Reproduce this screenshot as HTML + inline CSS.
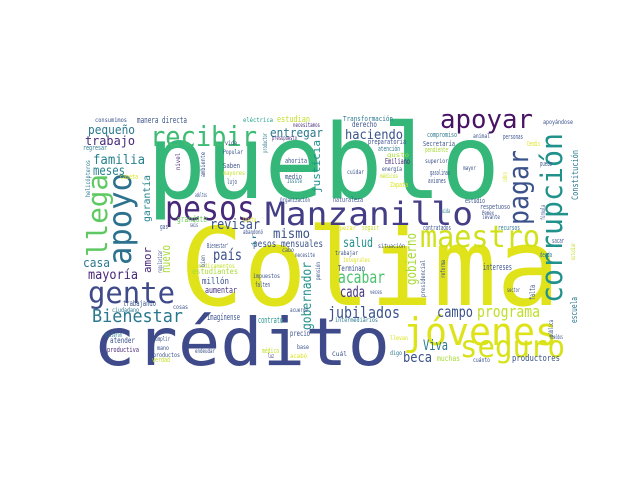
<!DOCTYPE html>
<html><head><meta charset="utf-8"><title>Word cloud</title>
<style>
html,body{margin:0;padding:0;background:#fff;width:640px;height:480px;overflow:hidden}
svg text{font-family:"DejaVu Sans Mono","Liberation Mono",monospace}
</style></head>
<body>
<svg id="cloud" width="640" height="480" viewBox="0 0 640 480" xmlns="http://www.w3.org/2000/svg">
<rect x="0" y="0" width="640" height="480" fill="#ffffff"/>
</svg>
<script>
// word cloud terms, font sizes (weight), colours, and layout [x, y, textLength, rotated]
const words = ["pueblo","Colima","crédito","Manzanillo","pesos","recibir","apoyar","gente","Bienestar","maestro","jóvenes","seguro","programa","jubilados","campo","haciendo","acabar","cada","salud","Viva","beca","pequeño","entregar","trabajo","familia","meses","revisar","mismo","país","casa","mayoría","llega","apoyo","corrupción","pagar","justicia","garantía","gobernador","gobierno","amor","nuevo","Constitución","escuela","falta","pesos mensuales","estudiantes","aumentar","millón","Imagínense","contrato","trabajando","atender","productiva","precio","productores","muchas","intereses","Terminan","grandote","consumimos","manera directa","eléctrica","estudian","necesitamos","regresar","vida","presupuesto","Popular","Saben","mayores","ahorita","medio","caseta","Issste","lujo","adultos","Organización","Cuarta","gas","seis","abandonó","Transformación","apoyándose","derecho","compromiso","animal","personas","preparatoria","Secretaría","pendiente","Cendis","atención","gusto","Emiliano","superior","puedo","energía","cuidar","gasolinas","mayor","médicos","aviones","Zapata","naturaleza","estudio","respetuoso","cuida","Pemex","levante","empezar","seguir","contratados","recursos","Bienestar'","cabo","necesite","medicamentos","impuestos","falten","ciudadano","cosas","acuerdo","hicieron","cumplir","mano","endeudar","base","productos","verdad","médica","luz","acabó","situación","trabajar","Integrales","deuda","sacar","veces","sector","intermediarios","sueldos","llevan","Cuál","digo","cuánto","helicópteros","productor","nivel","ambiente","cobro","fórmula","pensión","reforma","presidencial","regularizar","bien","pública","estudiar","ir"];
const sizes = [103,108,66,32,34,28,26,29,18,30,38,30,16,16,15,13,17,15,13,14,14,12,12,12,13,13,14,13,15,12,13,28,32,29,28,11,10,13,14,11,12,9,9,8,10,8,9,9,9,9,8,8,7,8,9,8,9,8,9,6,9,6,9,6,7,6,6,6,7,6,7,7,7,6,7,6,6,7,7,6,6,7,6,8,7,6,7,7,7,7,7,7,6,8,6,7,6,6,7,6,6,7,7,7,7,7,6,6,6,6,7,7,7,7,6,6,6,6,7,6,6,6,6,6,6,6,6,6,7,7,6,6,6,6,6,7,7,6,6,6,6,6,6,6,6,6,6,6,6,6,6,6,6,6,6,6,6,6,6,6,6,6,9];
const colors = ["#35b779","#e0e31a","#3e4a89","#433e85","#482878","#3fbc73","#471365","#3e4a89","#2a788e","#d0e11c","#dde318","#d8e219","#bddf26","#3b528b","#3b528b","#3b528b","#4ac16d","#46337f","#21918c","#2a788e","#3b528b","#2a788e","#2a788e","#482878","#26828e","#26828e","#3b528b","#3b528b","#3b528b","#2a788e","#482878","#5ec962","#2c728e","#21918c","#3b528b","#21918c","#26828e","#21918c","#a8db34","#482878","#a8db34","#2a788e","#2a788e","#3b528b","#3b528b","#a8db34","#46337f","#3b528b","#3b528b","#21918c","#3b528b","#3b528b","#482878","#3b528b","#3b528b","#a8db34","#3b528b","#3b528b","#6ccd5a","#3b528b","#3b528b","#1f9e89","#c2df23","#482878","#2a788e","#3b528b","#482878","#3b528b","#3b528b","#c2df23","#3b528b","#3b528b","#dde318","#2a788e","#3b528b","#3b528b","#3b528b","#dde318","#3b528b","#3b528b","#3b528b","#2a788e","#3b528b","#3b528b","#2a788e","#3b528b","#3b528b","#3b528b","#3b528b","#a8db34","#dde318","#2a788e","#a8db34","#482878","#3b528b","#3b528b","#3b528b","#3b528b","#3b528b","#3b528b","#c2df23","#3b528b","#dde318","#3b528b","#3b528b","#3b528b","#2a788e","#3b528b","#3b528b","#dde318","#c2df23","#3b528b","#2a788e","#3b528b","#3b528b","#3b528b","#c2df23","#3b528b","#3b528b","#2a788e","#3b528b","#3b528b","#2a788e","#3b528b","#3b528b","#3b528b","#3b528b","#3b528b","#c2df23","#c2df23","#482878","#dde318","#3b528b","#3b528b","#dde318","#2a788e","#3b528b","#3b528b","#3b528b","#2a788e","#3b528b","#dde318","#3b528b","#2a788e","#3b528b","#2a788e","#2a788e","#482878","#3b528b","#dde318","#3b528b","#3b528b","#3b528b","#3b528b","#3b528b","#3b528b","#3b528b","#c2df23","#2a788e","#482878"];
const layout = [[147,198,353,0],[180,305,380,0],[93,365,297,0],[265,225,208,0],[165,220,90,0],[150,146,107,0],[440,128,93,0],[88,303,87,0],[92,322,91,0],[420,247,120,0],[403,345,154,0],[460,357,105,0],[477,317,63,0],[328,318,72,0],[437,317,36,0],[345,139,58,0],[338,283,47,0],[340,297,25,0],[343,247,30,0],[423,350,25,0],[403,362,29,0],[88,134,47,0],[270,137,53,0],[85,145,50,0],[93,164,52,0],[93,175,32,0],[210,229,50,0],[273,238,37,0],[213,260,29,0],[83,267,27,0],[88,279,50,0],[107,257,83,1],[131,265,92,1],[562,303,170,1],[528,225,75,1],[320,193,53,1],[150,222,47,1],[311,330,68,1],[416,285,52,1],[151,273,26,1],[170,273,28,1],[578,200,50,1],[577,323,26,1],[535,300,15,1],[253,247,70,0],[192,274,46,0],[205,293,32,0],[202,284,27,0],[207,320,33,0],[258,323,25,0],[123,306,33,0],[110,343,25,0],[107,352,32,0],[290,336,20,0],[512,361,48,0],[437,361,23,0],[483,270,29,0],[338,271,27,0],[177,222,30,0],[95,122,32,0],[137,123,50,0],[243,122,30,0],[277,122,33,0],[293,127,27,0],[83,150,24,0],[225,145,12,0],[272,140,25,0],[223,154,20,0],[223,168,17,0],[223,175,22,0],[285,163,22,0],[285,179,17,0],[120,179,18,0],[287,183,15,0],[227,184,10,0],[195,197,12,0],[280,202,30,0],[243,222,13,0],[160,229,8,0],[190,227,8,0],[243,234,20,0],[343,121,50,0],[543,124,30,0],[352,127,25,0],[427,137,30,0],[473,138,17,0],[503,139,20,0],[368,144,38,0],[423,146,32,0],[425,152,23,0],[527,146,13,0],[378,151,22,0],[387,157,22,0],[385,164,25,0],[425,163,23,0],[540,166,12,0],[382,171,20,0],[347,174,17,0],[430,175,20,0],[463,170,13,0],[380,178,18,0],[428,183,18,0],[390,187,18,0],[333,202,30,0],[465,203,20,0],[480,209,30,0],[440,213,10,0],[482,215,12,0],[482,219,18,0],[333,230,23,0],[362,230,17,0],[423,230,28,0],[498,230,22,0],[207,248,22,0],[282,252,12,0],[295,257,20,0],[198,268,37,0],[253,278,27,0],[255,287,15,0],[112,312,27,0],[173,309,15,0],[290,312,18,0],[105,337,17,0],[153,341,17,0],[157,350,12,0],[195,353,20,0],[297,349,12,0],[153,357,27,0],[152,362,18,0],[262,353,17,0],[268,358,6,0],[290,358,17,0],[378,248,27,0],[335,255,23,0],[343,262,27,0],[540,257,12,0],[552,243,12,0],[370,294,12,0],[507,292,13,0],[335,322,43,0],[550,339,13,0],[390,340,18,0],[332,356,15,0],[390,355,12,0],[473,362,17,0],[90,197,37,1],[267,153,20,1],[180,170,17,1],[205,177,25,1],[507,182,10,1],[545,220,15,1],[320,280,18,1],[445,278,18,1],[425,297,37,1],[162,273,23,1],[205,267,12,1],[553,337,17,1],[575,260,17,1],[256,247,14,1]];

const svg = document.getElementById('cloud');
const NS = 'http://www.w3.org/2000/svg';
for (let i = 0; i < words.length; i++) {
  const L = layout[i];
  const t = document.createElementNS(NS, 'text');
  
  
  t.setAttribute('font-size', sizes[i]);
  t.setAttribute('fill', colors[i]);
  if (L[2] > 0) {
    t.setAttribute('textLength', L[2]);
    t.setAttribute('lengthAdjust', 'spacingAndGlyphs');
  }
  if (L[3]) {
    t.setAttribute('transform', 'translate(' + L[0] + ',' + L[1] + ') rotate(-90)');
    t.setAttribute('x', 0);
    t.setAttribute('y', 0);
  } else {
    t.setAttribute('x', L[0]);
    t.setAttribute('y', L[1]);
  }
  t.textContent = words[i];
  svg.appendChild(t);
}
</script>
</body></html>
